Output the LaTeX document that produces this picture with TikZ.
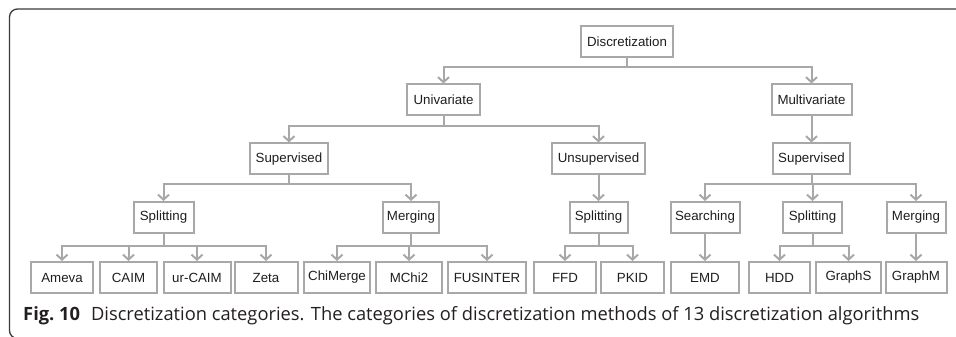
\documentclass[tikz,border=0pt]{standalone}
\usepackage{fontspec}
\setmainfont{Liberation Sans}
\newfontfamily\capfont{Open Sans}
\usetikzlibrary{arrows.meta}
\definecolor{linegray}{HTML}{A8A8A8}
\definecolor{textdark}{HTML}{1E1E1E}
\definecolor{framegray}{HTML}{3A3A3A}
\definecolor{captext}{HTML}{231F20}
\tikzset{
  box/.style={draw=linegray, line width=2pt, fill=white, text=textdark,
    minimum height=31pt, inner xsep=0pt, inner ysep=0pt,
    font=\fontsize{13.3}{15}\selectfont},
  conn/.style={draw=linegray, line width=2pt,
    -{Straight Barb[length=5pt,width=11pt]}},
}
\begin{document}
\begin{tikzpicture}[x=1pt,y=1pt]
\useasboundingbox (0,0) rectangle (956,337);
% outer frame
\draw[framegray, line width=1.3pt, rounded corners=8pt]
  (962,328) -- (9.5,328) -- (9.5,-1.5) -- (962,-1.5);

% level 1
\node[box, minimum width=92pt] (disc) at (627,295.5) {Discretization};
% level 2
\node[box, minimum width=73pt] (uni) at (443.5,237) {Univariate};
\node[box, minimum width=80pt] (multi) at (811.5,237) {Multivariate};
% level 3
\node[box, minimum width=78pt] (sup) at (289,178) {Supervised};
\node[box, minimum width=93pt] (unsup) at (598.5,178) {Unsupervised};
\node[box, minimum width=77pt] (msup) at (811.5,178) {Supervised};
% level 4
\node[box, minimum width=60pt] (split) at (163.5,119.5) {Splitting};
\node[box, minimum width=56pt] (merge) at (411,119.5) {Merging};
\node[box, minimum width=58pt] (usplit) at (598.5,119.5) {Splitting};
\node[box, minimum width=69pt] (search) at (705,119.5) {Searching};
\node[box, minimum width=59pt] (msplit) at (812.5,119.5) {Splitting};
\node[box, minimum width=59pt] (mmerge) at (916,119.5) {Merging};
% level 5
\node[box, minimum width=62pt] (ameva) at (62,59.5) {Ameva};
\node[box, minimum width=57pt] (caim) at (128.5,59.5) {CAIM};
\node[box, minimum width=67pt] (urcaim) at (197,59.5) {ur-CAIM};
\node[box, minimum width=63pt] (zeta) at (266,59.5) {Zeta};
\node[box, minimum width=66pt] (chim) at (337,59.5) {ChiMerge};
\node[box, minimum width=66pt] (mchi) at (409,59.5) {MChi2};
\node[box, minimum width=78pt] (fus) at (487,59.5) {FUSINTER};
\node[box, minimum width=62pt] (ffd) at (565,59.5) {FFD};
\node[box, minimum width=63pt] (pkid) at (632.5,59.5) {PKID};
\node[box, minimum width=68pt] (emd) at (705,59.5) {EMD};
\node[box, minimum width=61pt] (hdd) at (779.5,59.5) {HDD};
\node[box, minimum width=65pt] (graphs) at (848.5,59.5) {GraphS};
\node[box, minimum width=61pt] (graphm) at (916,59.5) {GraphM};

% connectors
\foreach \p/\c in {disc/uni, disc/multi}
  \draw[conn] (\p.south) |- ([yshift=16pt]\c.north) -- (\c.north);
\foreach \p/\c in {uni/sup, uni/unsup, multi/msup}
  \draw[conn] (\p.south) |- ([yshift=16pt]\c.north) -- (\c.north);
\foreach \p/\c in {sup/split, sup/merge, unsup/usplit, msup/search, msup/msplit, msup/mmerge}
  \draw[conn] (\p.south) |- ([yshift=17pt]\c.north) -- (\c.north);
\foreach \p/\c in {split/ameva, split/caim, split/urcaim, split/zeta,
                   merge/chim, merge/mchi, merge/fus,
                   usplit/ffd, usplit/pkid, search/emd,
                   msplit/hdd, msplit/graphs, mmerge/graphm}
  \draw[conn] (\p.south) |- ([yshift=15pt]\c.north) -- (\c.north);

% caption
\node[anchor=base west, inner sep=0pt, text=captext] (cap) at (23,16)
  {\resizebox{896pt}{!}{\capfont\fontsize{13}{15}\selectfont
   \textbf{Fig.~10}\hspace{0.6em}Discretization categories. The categories of discretization methods of 13 discretization algorithms}};
\end{tikzpicture}
\end{document}
